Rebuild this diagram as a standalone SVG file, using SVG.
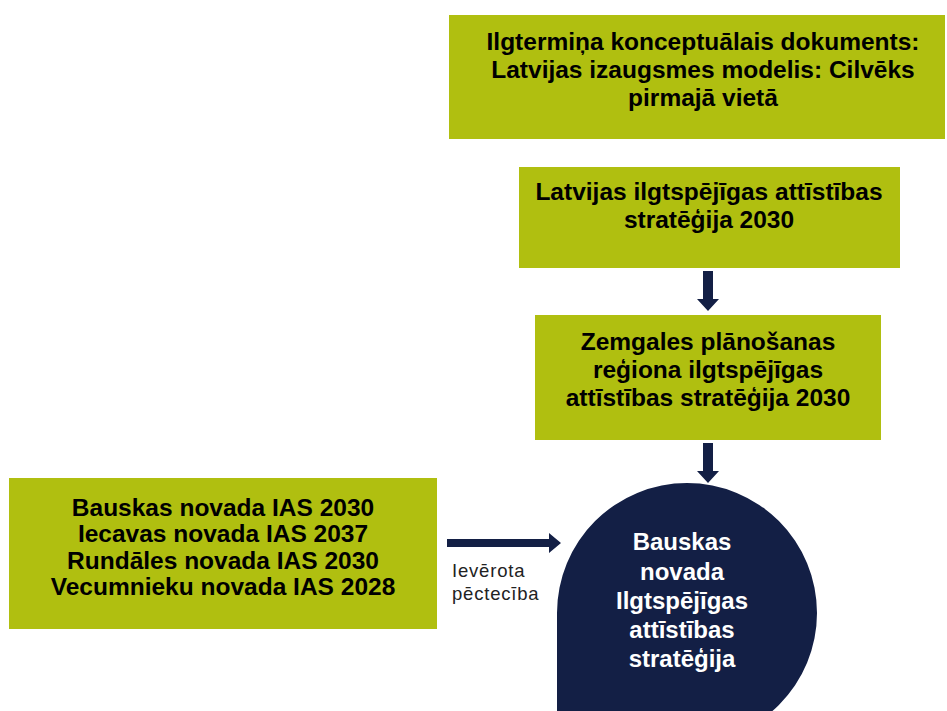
<svg xmlns="http://www.w3.org/2000/svg" width="947" height="711" viewBox="0 0 947 711">
<style>
.box{fill:#B0BF10}
.t{font-family:"Liberation Sans",Arial,sans-serif;font-weight:bold;font-size:24.5px;fill:#000;text-anchor:middle}
.w{font-family:"Liberation Sans",Arial,sans-serif;font-weight:bold;font-size:24px;fill:#fff;text-anchor:middle}
.lbl{font-family:"Liberation Sans",Arial,sans-serif;font-size:18.5px;letter-spacing:0.8px;fill:#222}
.arr{fill:#131F45}
</style>
<rect width="947" height="711" fill="#fff"/>
<g id="node-model">
<rect class="box" x="449" y="15" width="496" height="124"/>
<text class="t" x="703" y="50">Ilgtermiņa konceptuālais dokuments:</text>
<text class="t" x="703" y="78">Latvijas izaugsmes modelis: Cilvēks</text>
<text class="t" x="703" y="106">pirmajā vietā</text>
</g>
<g id="node-lias">
<rect class="box" x="519" y="167" width="381" height="101"/>
<text class="t" x="709" y="200">Latvijas ilgtspējīgas attīstības</text>
<text class="t" x="709" y="228">stratēģija 2030</text>
</g>
<g id="node-zpr">
<rect class="box" x="535" y="315" width="346" height="125"/>
<text class="t" x="708" y="350">Zemgales plānošanas</text>
<text class="t" x="708" y="378">reģiona ilgtspējīgas</text>
<text class="t" x="708" y="406">attīstības stratēģija 2030</text>
</g>
<g id="node-ias">
<rect class="box" x="9" y="478" width="428" height="151"/>
<text class="t" x="223" y="516">Bauskas novada IAS 2030</text>
<text class="t" x="223" y="542">Iecavas novada IAS 2037</text>
<text class="t" x="223" y="569">Rundāles novada IAS 2030</text>
<text class="t" x="223" y="595">Vecumnieku novada IAS 2028</text>
</g>
<g id="node-bauska">
<path class="arr" d="M557,745 L557,613 A130,130 0 0 1 687,483 A130,130 0 0 1 817,613 A130,130 0 0 1 687,743 Z"/>
<text class="w" x="682" y="550">Bauskas</text>
<text class="w" x="682" y="580">novada</text>
<text class="w" x="682" y="609">Ilgtspējīgas</text>
<text class="w" x="682" y="638">attīstības</text>
<text class="w" x="682" y="667">stratēģija</text>
</g>
<g id="connectors">
<path class="arr" d="M703,271 H713 V299 H719 L708,311 L697,299 H703 Z"/>
<path class="arr" d="M703,443 H713 V471 H719 L708,483 L697,471 H703 Z"/>
<path class="arr" d="M447,539 H549 V533 L561,543 L549,553 V547 H447 Z"/>
<text class="lbl" x="452" y="577">Ievērota</text>
<text class="lbl" x="452" y="600">pēctecība</text>
</g>
</svg>
